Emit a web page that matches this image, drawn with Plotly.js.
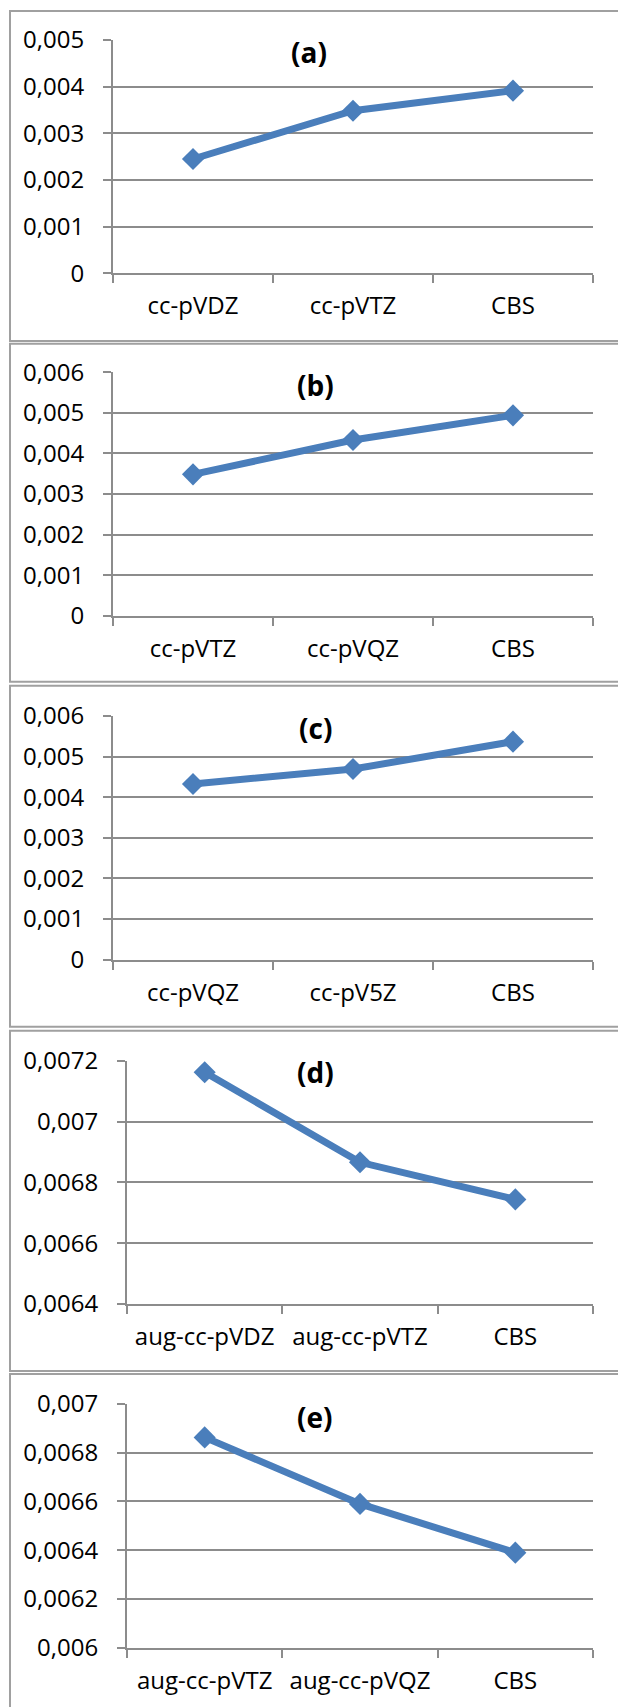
<!DOCTYPE html>
<html>
<head>
<meta charset="utf-8">
<script src="https://cdn.plot.ly/plotly-3.0.1.min.js"></script>
<style>
  html, body { margin: 0; padding: 0; background: #fff; }
  #chart { width: 618px; height: 1707px; }
</style>
</head>
<body>
<div id="chart"></div>
<script>
// ---- Data ----
const panelTitles = ['(a)', '(b)', '(c)', '(d)', '(e)'];

const categoriesA = ['cc-pVDZ', 'cc-pVTZ', 'CBS'];
const valuesA = [0.00245, 0.003485, 0.003914];

const categoriesB = ['cc-pVTZ', 'cc-pVQZ', 'CBS'];
const valuesB = [0.003484, 0.00433, 0.004939];

const categoriesC = ['cc-pVQZ', 'cc-pV5Z', 'CBS'];
const valuesC = [0.004326, 0.004694, 0.005369];

const categoriesD = ['aug-cc-pVDZ', 'aug-cc-pVTZ', 'CBS'];
const valuesD = [0.007162, 0.006866, 0.006744];

const categoriesE = ['aug-cc-pVTZ', 'aug-cc-pVQZ', 'CBS'];
const valuesE = [0.006863, 0.00659, 0.00639];

const tickValsA = [0, 0.001, 0.002, 0.003, 0.004, 0.005];
const tickTextA = ['0', '0,001', '0,002', '0,003', '0,004', '0,005'];
const tickValsBC = [0, 0.001, 0.002, 0.003, 0.004, 0.005, 0.006];
const tickTextBC = ['0', '0,001', '0,002', '0,003', '0,004', '0,005', '0,006'];
const tickValsD = [0.0064, 0.0066, 0.0068, 0.007, 0.0072];
const tickTextD = ['0,0064', '0,0066', '0,0068', '0,007', '0,0072'];
const tickValsE = [0.006, 0.0062, 0.0064, 0.0066, 0.0068, 0.007];
const tickTextE = ['0,006', '0,0062', '0,0064', '0,0066', '0,0068', '0,007'];

const rangesY = [[0, 0.005], [0, 0.006], [0, 0.006], [0.0064, 0.0072], [0.006, 0.007]];

// ---- Layout geometry (pixels) ----
const W = 618, H = 1707;
const plotBoxes = [
  {x0: 113, x1: 593, top: 40,     bottom: 273.3},
  {x0: 113, x1: 593, top: 372.3,  bottom: 615.7},
  {x0: 113, x1: 593, top: 716,    bottom: 959.7},
  {x0: 127, x1: 593, top: 1060.7, bottom: 1304},
  {x0: 127, x1: 593, top: 1404,   bottom: 1647.7}
];
const frames = [
  {top: 11, bottom: 341},
  {top: 343.7, bottom: 681.7},
  {top: 685.7, bottom: 1026.7},
  {top: 1030.7, bottom: 1371},
  {top: 1374, bottom: 1720}
];
const titlePos = [
  {x: 309, y: 52},
  {x: 315, y: 385},
  {x: 315, y: 728.3},
  {x: 315, y: 1071.7},
  {x: 315, y: 1416.7}
];

const cats = [categoriesA, categoriesB, categoriesC, categoriesD, categoriesE];
const vals = [valuesA, valuesB, valuesC, valuesD, valuesE];
const tvals = [tickValsA, tickValsBC, tickValsBC, tickValsD, tickValsE];
const ttext = [tickTextA, tickTextBC, tickTextBC, tickTextD, tickTextE];

const FONT = "'Open Sans', 'Liberation Sans', sans-serif";
const BLUE = '#4a7ebb';
const GRID = '#8c8c8c';

const px = v => v / W;
const py = v => 1 - v / H;

const data = [];
const layout = {
  width: W, height: H,
  margin: {l: 0, r: 0, t: 0, b: 0},
  paper_bgcolor: '#ffffff',
  plot_bgcolor: '#ffffff',
  showlegend: false,
  font: {family: FONT, size: 24, color: '#000000'},
  shapes: [],
  annotations: []
};

for (let i = 0; i < 5; i++) {
  const n = i === 0 ? '' : String(i + 1);
  const b = plotBoxes[i];
  data.push({
    type: 'scatter',
    mode: 'lines+markers',
    x: cats[i],
    y: vals[i],
    xaxis: 'x' + n,
    yaxis: 'y' + n,
    line: {color: BLUE, width: 7},
    marker: {symbol: 'diamond', size: 17, color: BLUE},
    cliponaxis: false,
    hoverinfo: 'skip'
  });
  layout['xaxis' + n] = {
    domain: [px(b.x0), px(b.x1)],
    anchor: 'y' + n,
    type: 'category',
    range: [-0.5, 2.5],
    tickson: 'boundaries',
    ticks: 'outside',
    ticklen: 8,
    tickwidth: 2,
    tickcolor: GRID,
    showline: true,
    linecolor: GRID,
    linewidth: 2,
    showgrid: false,
    zeroline: false,
    tickangle: 0,
    ticklabelstandoff: 10,
    tickfont: {family: FONT, size: 24, color: '#000'},
    fixedrange: true
  };
  layout['yaxis' + n] = {
    domain: [py(b.bottom), py(b.top)],
    anchor: 'x' + n,
    range: rangesY[i],
    tickmode: 'array',
    tickvals: tvals[i],
    ticktext: ttext[i],
    ticks: 'outside',
    ticklen: 8,
    tickwidth: 2,
    tickcolor: GRID,
    showline: true,
    linecolor: GRID,
    linewidth: 2,
    showgrid: true,
    gridcolor: GRID,
    gridwidth: 2,
    zeroline: false,
    ticklabelstandoff: 14,
    tickfont: {family: FONT, size: 24, color: '#000'},
    fixedrange: true
  };
  const f = frames[i];
  layout.shapes.push({
    type: 'rect', xref: 'paper', yref: 'paper',
    x0: px(10), x1: px(640), y0: py(f.bottom), y1: py(f.top),
    line: {color: '#a0a0a0', width: 2},
    fillcolor: 'rgba(0,0,0,0)',
    layer: 'below'
  });
  layout.annotations.push({
    xref: 'paper', yref: 'paper',
    x: px(titlePos[i].x), y: py(titlePos[i].y),
    xanchor: 'center', yanchor: 'middle',
    text: '<b>' + panelTitles[i] + '</b>',
    showarrow: false,
    font: {family: FONT, size: 28, color: '#000'}
  });
}

Plotly.newPlot('chart', data, layout, {staticPlot: true, displayModeBar: false});
</script>
</body>
</html>
